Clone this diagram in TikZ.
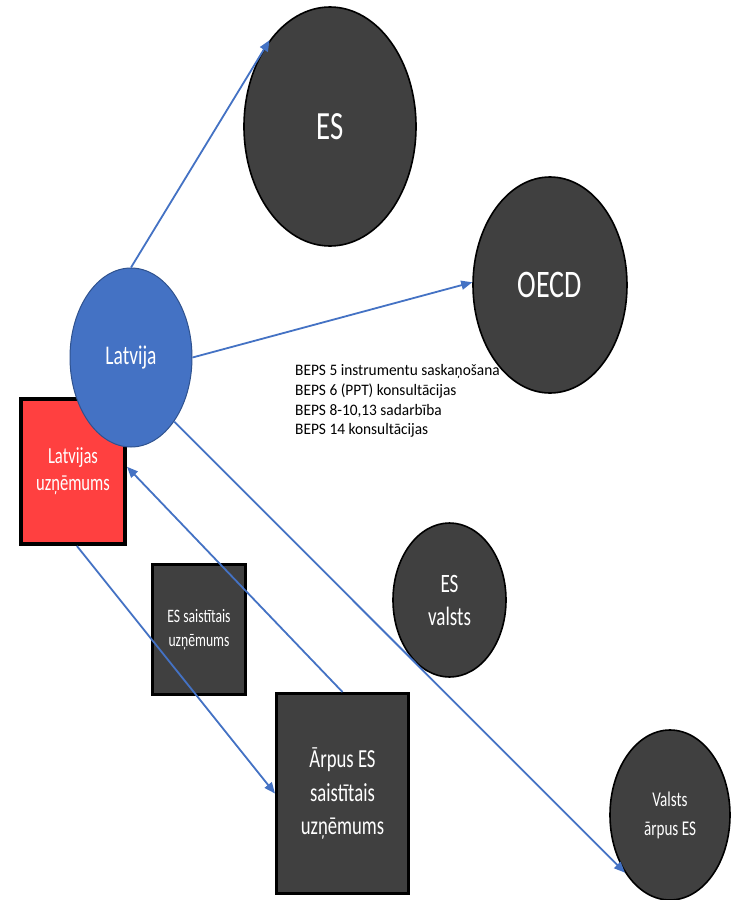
\documentclass[tikz,border=0pt]{standalone}
\usepackage{fontspec}
\usepackage{graphicx}
\setmainfont{Carlito}
\usetikzlibrary{shapes.geometric,arrows.meta}
\definecolor{mblue}{HTML}{4472C4}
\definecolor{mblueborder}{HTML}{2F528F}
\definecolor{mdark}{HTML}{404040}
\definecolor{mred}{HTML}{FF4040}
\newcommand{\sqz}[1]{\scalebox{0.72}[1]{#1}}
\newcommand{\sqb}[1]{\scalebox{0.96}[1]{#1}}
\tikzset{
  darkell/.style={ellipse, draw=black, line width=1.6pt, fill=mdark, text=white, inner sep=0pt, align=center},
  darkbox/.style={rectangle, draw=black, line width=3pt, fill=mdark, text=white, inner sep=0pt, align=center},
  conn/.style={draw=mblue, line width=1.8pt, -{Triangle[length=11pt,width=9pt]}},
}
\begin{document}
\begin{tikzpicture}[x=1pt,y=-1pt]
\useasboundingbox[fill=white] (0,0) rectangle (734,900);
% nodes
\node[darkell, minimum width=172pt, minimum height=239pt, font=\fontsize{40}{48}\selectfont] (es) at (330,126.5) {\sqz{ES}};
\node[darkell, minimum width=154pt, minimum height=216pt, font=\fontsize{39}{47}\selectfont] (oecd) at (550,285) {\sqz{OECD}};
\node[rectangle, draw=black, line width=4pt, fill=mred, text=white, inner sep=0pt, align=center,
      minimum width=104pt, minimum height=145pt, font=\fontsize{23}{27}\selectfont] (lu) at (73,471.5) {\sqz{Latvijas}\\\sqz{uzņēmums}};
\node[ellipse, draw=mblueborder, line width=1pt, fill=mblue, text=white, inner sep=0pt,
      minimum width=122pt, minimum height=179pt, font=\fontsize{27}{32}\selectfont] (lat) at (131,357.5) {\sqz{Latvija}};
\node[darkbox, minimum width=93pt, minimum height=130pt, font=\fontsize{19}{23.5}\selectfont] (esu) at (199,629.5) {\sqz{ES saistītais}\\\sqz{uzņēmums}};
\node[darkbox, minimum width=132pt, minimum height=200pt, font=\fontsize{26}{33.5}\selectfont] (ar) at (342.5,793.5) {\sqz{Ārpus ES}\\\sqz{saistītais}\\\sqz{uzņēmums}};
\node[darkell, minimum width=113pt, minimum height=154pt, font=\fontsize{26.5}{33}\selectfont] (esv) at (449.5,600) {\sqz{ES}\\\sqz{valsts}};
\node[darkell, minimum width=120pt, minimum height=170pt, font=\fontsize{21}{29}\selectfont] (va) at (670,815) {\sqz{Valsts}\\\sqz{ārpus ES}};
\node[anchor=west, inner sep=0pt, align=left, font=\fontsize{16}{19.7}\selectfont] (beps) at (295,401)
  {\sqb{BEPS 5 instrumentu saskaņošana}\\\sqb{BEPS 6 (PPT) konsultācijas}\\\sqb{BEPS 8-10,13 sadarbība}\\\sqb{BEPS 14 konsultācijas}};
% connectors
\draw[conn] (lat.north) -- (es.125);
\draw[conn] (lat.east) -- (oecd.178);
\draw[conn] (lat.-56) -- (va.232);
\draw[conn] (lu.-87) -- (ar.west);
\draw[conn] (ar.north) -- (lu.5);
\end{tikzpicture}
\end{document}
